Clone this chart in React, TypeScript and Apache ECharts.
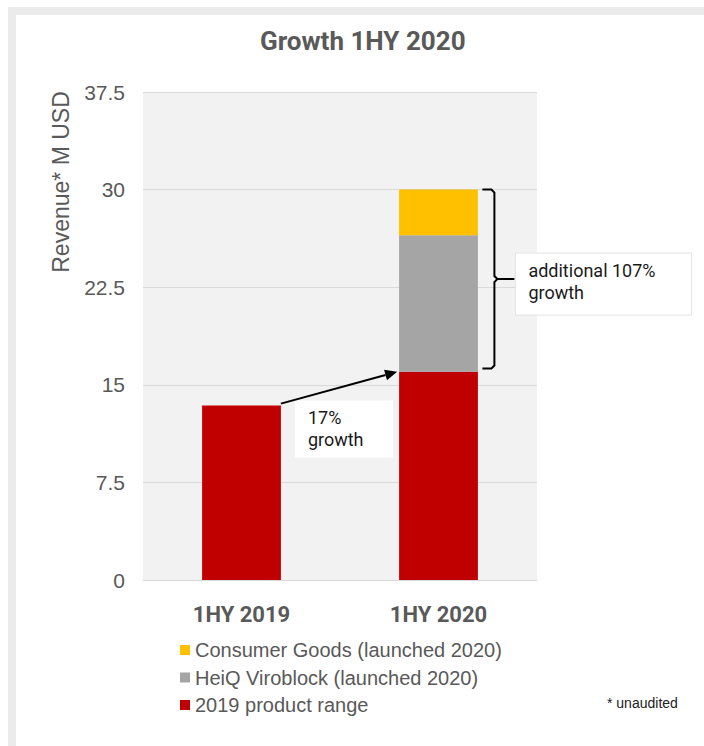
import React, { useEffect, useRef } from 'react';
import * as echarts from 'echarts';

const categories = ['1HY 2019', '1HY 2020'];
const productRange2019 = [13.4, 16.0];
const viroblock: (number | string)[] = ['-', 10.5];
const consumerGoods: (number | string)[] = ['-', 3.5];
const seriesNames = ['2019 product range', 'HeiQ Viroblock (launched 2020)', 'Consumer Goods (launched 2020)'];
const seriesColors = ['#c00000', '#a5a5a5', '#ffc000'];
const yMin = 0;
const yMax = 37.5;
const yStep = 7.5;
const titleText = 'Growth 1HY 2020';
const yAxisName = 'Revenue* M USD';
const growthLabel = '17%\ngrowth';
const additionalLabel = 'additional 107%\ngrowth';
const footnote = '* unaudited';
const bracketBottomValue = 16.25;

export default function App() {
  const ref = useRef<HTMLDivElement>(null);

  useEffect(() => {
    document.body.style.margin = '0';
    const el = ref.current!;
    const chart = echarts.init(el, null, { renderer: 'svg' });
    const axisFont = "'Liberation Sans', Arial, sans-serif";
    const condFont = "Roboto, 'Liberation Sans', sans-serif";
    const noteFont = "Roboto, 'Noto Sans', sans-serif";
    const barWidthRatio = 0.4;

    chart.setOption({
      animation: false,
      title: {
        text: titleText,
        left: 260,
        top: 28,
        padding: 0,
        textStyle: { fontFamily: condFont, fontWeight: 'bold', fontSize: 26, color: '#595959' },
      },
      grid: { left: 143, right: 167, top: 92, bottom: 166, show: true, backgroundColor: '#f2f2f2', borderWidth: 0 },
      legend: {
        orient: 'vertical',
        left: 180,
        top: 640,
        padding: 0,
        itemWidth: 10,
        itemHeight: 10,
        itemGap: 7.5,
        icon: 'rect',
        data: [...seriesNames].reverse(),
        textStyle: { fontFamily: axisFont, fontSize: 20, color: '#595959', lineHeight: 20 },
      },
      xAxis: {
        type: 'category',
        data: categories,
        axisLine: { lineStyle: { color: '#d9d9d9', width: 1 } },
        axisTick: { show: false },
        axisLabel: { margin: 22, fontFamily: condFont, fontWeight: 'bold', fontSize: 22, lineHeight: 24, color: '#595959' },
      },
      yAxis: {
        type: 'value',
        min: yMin,
        max: yMax,
        interval: yStep,
        axisLine: { show: false },
        axisTick: { show: false },
        splitLine: { lineStyle: { color: '#d9d9d9', width: 1 } },
        axisLabel: { margin: 18, fontFamily: axisFont, fontSize: 21, color: '#595959' },
      },
      series: [
        { name: seriesNames[0], type: 'bar', stack: 'total', data: productRange2019, barWidth: `${barWidthRatio * 100}%`, itemStyle: { color: seriesColors[0] } },
        { name: seriesNames[1], type: 'bar', stack: 'total', data: viroblock, itemStyle: { color: seriesColors[1] } },
        { name: seriesNames[2], type: 'bar', stack: 'total', data: consumerGoods, itemStyle: { color: seriesColors[2] } },
      ],
    });

    const px = (i: number, v: number) => chart.convertToPixel({ gridIndex: 0 }, [i, v]) as number[];
    const p0 = px(0, productRange2019[0]);
    const p1 = px(1, productRange2019[1]);
    const barW = (p1[0] - p0[0]) * barWidthRatio;
    const total2020 = productRange2019[1] + (viroblock[1] as number) + (consumerGoods[1] as number);
    const yTop = px(1, total2020)[1];
    const yBot = px(1, bracketBottomValue)[1];

    // arrow
    const start = [p0[0] + barW / 2, p0[1] - 2];
    const end = [p1[0] - barW / 2 - 2, p1[1]];
    const dx = end[0] - start[0];
    const dy = end[1] - start[1];
    const len = Math.sqrt(dx * dx + dy * dy);
    const ux = dx / len;
    const uy = dy / len;
    const base = [end[0] - ux * 12, end[1] - uy * 12];
    const nx = -uy;
    const ny = ux;

    // bracket
    const xL = p1[0] + barW / 2 + 4.5;
    const xV = xL + 12;
    const mid = (yTop + yBot) / 2;
    const tipX = xV + 20;

    const box1X = p0[0] + barW / 2 + 14;
    const box1Y = p0[1] - 5;

    chart.setOption({
      graphic: [
        {
          type: 'text',
          rotation: Math.PI / 2,
          x: 61,
          y: 182,
          style: { text: yAxisName, fontFamily: axisFont, fontSize: 23, fill: '#595959', align: 'center', verticalAlign: 'middle' },
        },
        {
          type: 'line',
          z: 100,
          shape: { x1: start[0], y1: start[1], x2: base[0], y2: base[1] },
          style: { stroke: '#000', lineWidth: 2 },
        },
        {
          type: 'polygon',
          z: 100,
          shape: { points: [end, [base[0] + nx * 5.5, base[1] + ny * 5.5], [base[0] - nx * 5.5, base[1] - ny * 5.5]] },
          style: { fill: '#000' },
        },
        {
          type: 'rect',
          z: 90,
          shape: { x: box1X, y: box1Y, width: 98, height: 57 },
          style: { fill: '#ffffff' },
        },
        {
          type: 'text',
          z: 100,
          x: box1X + 13,
          y: box1Y + 6,
          style: { text: growthLabel, fontFamily: noteFont, fontSize: 18, lineHeight: 22, fill: '#1a1a1a' },
        },
        {
          type: 'polyline',
          z: 100,
          shape: {
            points: [
              [xL, yTop], [xV - 3, yTop], [xV, yTop + 3], [xV, mid - 3], [xV + 3, mid], [tipX, mid],
            ],
          },
          style: { stroke: '#000', lineWidth: 2, fill: 'none' },
        },
        {
          type: 'polyline',
          z: 100,
          shape: {
            points: [
              [xV + 3, mid], [xV, mid + 3], [xV, yBot - 3], [xV - 3, yBot], [xL, yBot],
            ],
          },
          style: { stroke: '#000', lineWidth: 2, fill: 'none' },
        },
        {
          type: 'rect',
          z: 90,
          shape: { x: tipX + 1, y: mid - 26, width: 176, height: 62 },
          style: { fill: '#ffffff', stroke: '#e3e3e3', lineWidth: 1 },
        },
        {
          type: 'text',
          z: 100,
          x: tipX + 14,
          y: mid - 20,
          style: { text: additionalLabel, fontFamily: noteFont, fontSize: 18, lineHeight: 22, fill: '#1a1a1a' },
        },
        {
          type: 'text',
          x: 607,
          y: 703,
          style: { text: footnote, fontFamily: axisFont, fontSize: 14, fill: '#222', verticalAlign: 'middle' },
        },
      ],
    });

    return () => chart.dispose();
  }, []);

  return (
    <div style={{ position: 'relative', width: 704, height: 746, overflow: 'hidden', background: '#fff' }}>
      <div
        style={{
          position: 'absolute',
          left: 8,
          top: 7,
          width: 720,
          height: 750,
          border: '8px solid #ebebeb',
          boxSizing: 'content-box',
        }}
      />
      <div
        style={{
          position: 'absolute',
          left: 16,
          top: 15,
          width: 720,
          height: 726,
          background: '#fff',
        }}
      />
      <div ref={ref} style={{ position: 'absolute', left: 0, top: 0, width: 704, height: 746 }} />
    </div>
  );
}
